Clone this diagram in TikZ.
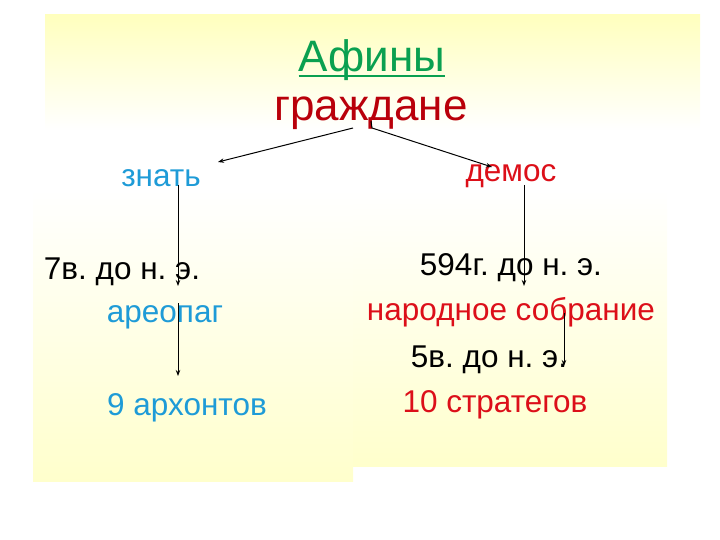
\documentclass[tikz,border=0pt]{standalone}
\usepackage{fontspec}
\setmainfont{Liberation Sans}
\usetikzlibrary{arrows.meta}
\definecolor{afgreen}{RGB}{10,160,80}
\definecolor{darkred}{RGB}{185,0,10}
\definecolor{brred}{RGB}{220,15,25}
\definecolor{lblue}{RGB}{30,155,215}
\definecolor{yel}{RGB}{255,255,190}
\definecolor{paleyel}{RGB}{255,255,204}
\frenchspacing
\tikzset{
  lbl/.style={anchor=base,inner sep=0pt,font=\fontsize{31.5}{36}\selectfont},
  big/.style={anchor=base,inner sep=0pt,font=\fontsize{44}{50}\selectfont},
  conn/.style={draw=black,line width=1pt,-{Stealth[length=6pt,width=4.5pt]}},
}
\begin{document}
\begin{tikzpicture}[x=1pt,y=-1pt]
\useasboundingbox (0,0) rectangle (720,540);
% backgrounds
\shade[top color=yel,bottom color=white,draw=none] (45,15) rectangle (700,130);
\shade[top color=white,bottom color=paleyel,draw=none] (33,190) rectangle (353,481);
\shade[top color=white,bottom color=paleyel,draw=none] (353,190) rectangle (667,466);
% texts
\node[big,text=afgreen] (af) at (372,72) {Афины};
\draw[afgreen,line width=2.5pt] ([yshift=-4pt]af.base west) -- ([yshift=-4pt]af.base east);
\node[big,text=darkred] (gr) at (371,121) {граждане};
\node[lbl,text=lblue] (zn) at (161,187) {знать};
\node[lbl,text=brred] (dm) at (511,182) {демос};
\node[lbl,text=black] (d7) at (122,279) {7в. до н. э.};
\node[lbl,text=lblue] (ar) at (165,322) {ареопаг};
\node[lbl,text=lblue] (ar9) at (187,415) {9 архонтов};
\node[lbl,text=black] (d594) at (511,275) {594г. до н. э.};
\node[lbl,text=brred] (ns) at (511,320) {народное собрание};
\node[lbl,text=black] (d5) at (489,367) {5в. до н. э.};
\node[lbl,text=brred] (st) at (495,412) {10 стратегов};
% connector end points
\coordinate (g1) at (353,128);
\coordinate (z1) at (218,162);
\coordinate (g0) at (371,121);
\coordinate (g2) at (372,128);
\coordinate (m1) at (492,167);
\coordinate (zb) at (178,185);
\coordinate (ze) at (178,286);
\coordinate (ab) at (178,303);
\coordinate (ae) at (178,376);
\coordinate (db) at (524,185);
\coordinate (de) at (524,286);
\coordinate (nb) at (564,313);
\coordinate (ne) at (564,366);
% connectors
\draw[conn] (g1) -- (z1);
\draw[conn] (g0) -- (g2) -- (m1);
\draw[conn] (zb) -- (ze);
\draw[conn] (ab) -- (ae);
\draw[conn] (db) -- (de);
\draw[conn] (nb) -- (ne);
\end{tikzpicture}
\end{document}
